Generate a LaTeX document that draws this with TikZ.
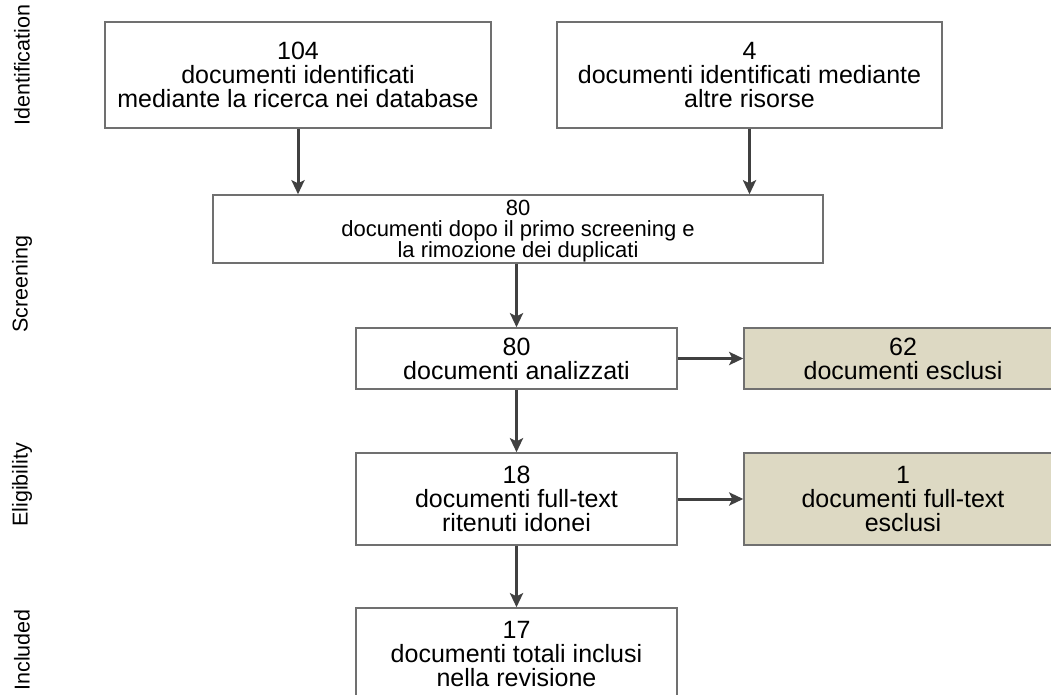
\documentclass[tikz,border=0pt]{standalone}
\usepackage{fontspec}
\setmainfont{Liberation Sans}
\usetikzlibrary{arrows.meta}
\definecolor{bordo}{HTML}{707070}
\definecolor{scuro}{HTML}{404040}
\definecolor{escluso}{HTML}{DDD9C3}
\newcommand{\stretto}{\fontsize{22}{21}\selectfont\lineskiplimit=-30pt\relax}

\begin{document}
\begin{tikzpicture}
  [x=1pt,y=-1pt,
  box/.style = {draw=bordo, line width=1.5pt, fill=white,
               inner sep=0pt, align=center,
               font=\fontsize{25}{24}\selectfont},
  fuori/.style = {box, fill=escluso},
  fase/.style = {rotate=90, font=\fontsize{21.5}{24}\selectfont},
  freccia/.style = {draw=scuro, line width=3pt,
                   -{Stealth[length=14pt,width=13pt,inset=3pt]}}]
  \useasboundingbox (0,0) rectangle (1051,695);
  \clip (0,0) rectangle (1051,695);
  % Fasi
  \node[fase] (fid) at (22,65) {Identification};
  \node[fase] (fsc) at (22,284) {Screening};
  \node[fase] (fel) at (22,485) {Eligibility};
  \node[fase] (fin) at (22,650) {Included};
  % Identificazione
  \node[box, minimum width=386, minimum height=106] (db) at (298,75)
    {104\\documenti identificati\\mediante la ricerca nei database};
  \node[box, minimum width=385, minimum height=106] (altre) at (749.5,75)
    {4\\documenti identificati mediante\\altre risorse};
  % Screening
  \node[box, minimum width=610, minimum height=68, font=\stretto] (dup) at (518,229)
    {\rule{0pt}{20pt}80\\documenti dopo il primo screening e\\la rimozione dei duplicati};
  \node[box, minimum width=321, minimum height=61] (anal) at (516.5,358.5)
    {80\\documenti analizzati};
  \node[fuori, minimum width=318, minimum height=61] (escl) at (903,358.5)
    {62\\documenti esclusi};
  % Eleggibilita
  \node[box, minimum width=321, minimum height=92] (full) at (516.5,499)
    {18\\documenti full-text\\ritenuti idonei};
  \node[fuori, minimum width=318, minimum height=92] (esclft) at (903,499)
    {1\\documenti full-text\\esclusi};
  % Inclusi
  \node[box, minimum width=321, minimum height=92] (incl) at (516.5,654)
    {17\\documenti totali inclusi\\nella revisione};
  % Frecce
  \draw[freccia] (db.south) -- (db.south |- dup.north);
  \draw[freccia] (altre.south) -- (altre.south |- dup.north);
  \draw[freccia] (dup.south -| anal.north) -- (anal.north);
  \draw[freccia] (anal.east) -- (escl.west);
  \draw[freccia] (anal.south) -- (full.north);
  \draw[freccia] (full.east) -- (esclft.west);
  \draw[freccia] (full.south) -- (incl.north);
\end{tikzpicture}
\end{document}
